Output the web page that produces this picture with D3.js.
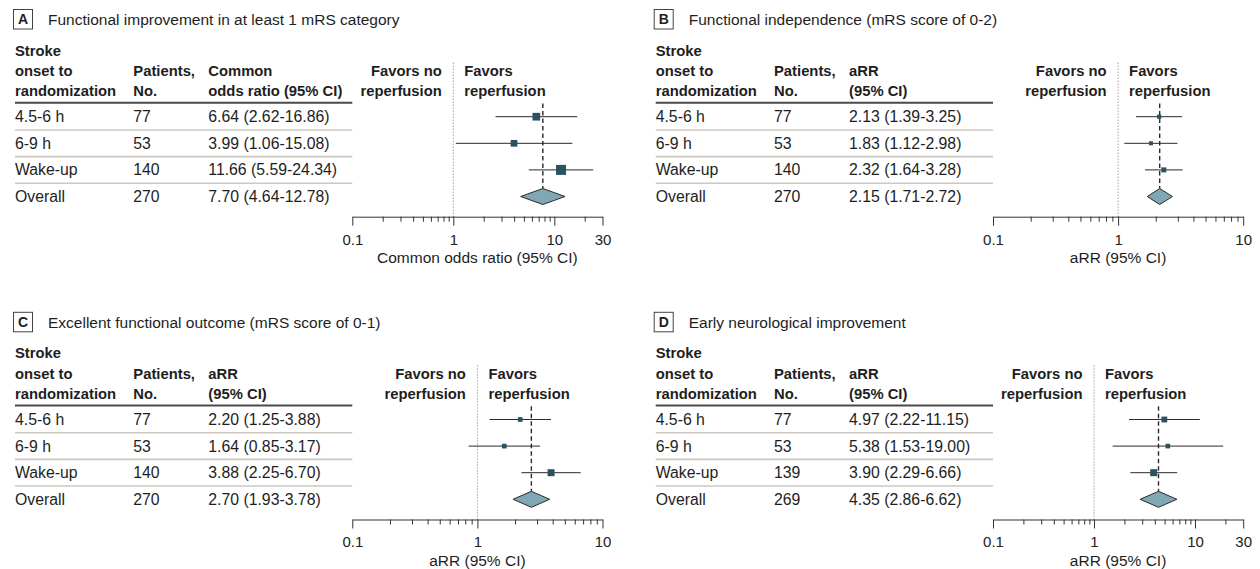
<!DOCTYPE html>
<html>
<head>
<meta charset="utf-8">
<script src="https://cdn.jsdelivr.net/npm/d3@7"></script>
<style>
  html, body { margin: 0; padding: 0; background: #fff; }
  svg { display: block; font-family: "Liberation Sans", Arial, sans-serif; }
  .axis path, .axis line { stroke: #333; stroke-width: 1; }
  .axis text { font-size: 15px; fill: #222; font-family: "Liberation Sans", Arial, sans-serif; }
</style>
</head>
<body>
<svg id="chart" width="1260" height="569"></svg>
<script>
// ---------------- DATA ----------------
const panelLetters = ["A", "B", "C", "D"];
const panelTitles = [
  "Functional improvement in at least 1 mRS category",
  "Functional independence (mRS score of 0-2)",
  "Excellent functional outcome (mRS score of 0-1)",
  "Early neurological improvement"
];
const groups = ["4.5-6 h", "6-9 h", "Wake-up", "Overall"];
const headerCol1 = ["Stroke", "onset to", "randomization"];
const headerCol2 = ["Patients,", "No."];
const estHeaders = [
  ["Common", "odds ratio (95% CI)"],
  ["aRR", "(95% CI)"],
  ["aRR", "(95% CI)"],
  ["aRR", "(95% CI)"]
];
const axisTitles = ["Common odds ratio (95% CI)", "aRR (95% CI)", "aRR (95% CI)", "aRR (95% CI)"];

const patientsA = [77, 53, 140, 270];
const patientsB = [77, 53, 140, 270];
const patientsC = [77, 53, 140, 270];
const patientsD = [77, 53, 139, 269];

const estimateA = [6.64, 3.99, 11.66, 7.70];
const lowerA    = [2.62, 1.06, 5.59, 4.64];
const upperA    = [16.86, 15.08, 24.34, 12.78];

const estimateB = [2.13, 1.83, 2.32, 2.15];
const lowerB    = [1.39, 1.12, 1.64, 1.71];
const upperB    = [3.25, 2.98, 3.28, 2.72];

const estimateC = [2.20, 1.64, 3.88, 2.70];
const lowerC    = [1.25, 0.85, 2.25, 1.93];
const upperC    = [3.88, 3.17, 6.70, 3.78];

const estimateD = [4.97, 5.38, 3.90, 4.35];
const lowerD    = [2.22, 1.53, 2.29, 2.86];
const upperD    = [11.15, 19.00, 6.66, 6.62];

// relative study weights (marker size), first three rows
const weightA = [0.77, 0.67, 1.0];
const weightB = [0.42, 0.40, 0.50];
const weightC = [0.47, 0.47, 0.70];
const weightD = [0.58, 0.46, 0.70];

const tickLabelsA = [0.1, 1, 10, 30];
const tickLabelsB = [0.1, 1, 10];
const tickLabelsC = [0.1, 1, 10];
const tickLabelsD = [0.1, 1, 10, 30];

const minorTicksA = [0.2,0.3,0.4,0.5,0.6,0.7,0.8,0.9,2,3,4,5,6,7,8,9,20];
const minorTicksB = [0.2,0.3,0.4,0.5,0.6,0.7,0.8,0.9,2,3,4,5,6,7,8,9];
const minorTicksC = [0.2,0.3,0.4,0.5,0.6,0.7,0.8,0.9,2,3,4,5,6,7,8,9];
const minorTicksD = [0.2,0.3,0.4,0.5,0.6,0.7,0.8,0.9,2,3,4,5,6,7,8,9,20];

// ---------------- LAYOUT ----------------
const panelsData = [
  {patients: patientsA, est: estimateA, lo: lowerA, hi: upperA, w: weightA, ticks: tickLabelsA, minor: minorTicksA},
  {patients: patientsB, est: estimateB, lo: lowerB, hi: upperB, w: weightB, ticks: tickLabelsB, minor: minorTicksB},
  {patients: patientsC, est: estimateC, lo: lowerC, hi: upperC, w: weightC, ticks: tickLabelsC, minor: minorTicksC},
  {patients: patientsD, est: estimateD, lo: lowerD, hi: upperD, w: weightD, ticks: tickLabelsD, minor: minorTicksD}
];
const originX = [0, 640.7, 0, 640.7];
const originY = [0, 0, 302.8, 302.8];

const colX = [15, 133.3, 208.3];
const tableEnd = 352.3;
const axisEnd = 602.5;
const headerY = [50.5, 70.8, 91.2];
const rowY = d3.scaleBand().domain(groups).range([103.4, 209.8]);
const axisY = 216.7;
const textColor = "#1e1e1e";
const markerColor = "#2b5260";
const diamondColor = "#7fa7b6";
const sizeScale = d3.scaleLinear().domain([0, 1]).range([0, 10]);
const fmt = d3.format(".2f");

const svg = d3.select("#chart");

panelsData.forEach((pd, i) => {
  const g = svg.append("g").attr("transform", `translate(${originX[i]},${originY[i]})`);
  const x = d3.scaleLog().domain([pd.ticks[0], pd.ticks[pd.ticks.length - 1]]).range([tableEnd, axisEnd]);
  const cy = gname => rowY(gname) + rowY.bandwidth() / 2;

  // Title box + title
  g.append("rect").attr("x", 13.5).attr("y", 9.5).attr("width", 19).attr("height", 19.5)
    .attr("fill", "none").attr("stroke", "#444").attr("stroke-width", 1);
  g.append("text").attr("x", 23).attr("y", 19.3).attr("dy", "0.35em").attr("text-anchor", "middle")
    .attr("font-size", 14).attr("font-weight", "bold").attr("fill", textColor).text(panelLetters[i]);
  g.append("text").attr("x", 48).attr("y", 19.3).attr("dy", "0.35em")
    .attr("font-size", 15.5).attr("fill", textColor).text(panelTitles[i]);

  // Column headers
  const hdr = (txt, xx, yy, anchor) => g.append("text").attr("x", xx).attr("y", yy).attr("dy", "0.35em")
    .attr("text-anchor", anchor || "start").attr("font-size", 14.8).attr("font-weight", "bold")
    .attr("fill", textColor).text(txt);
  headerCol1.forEach((t, k) => hdr(t, colX[0], headerY[k]));
  headerCol2.forEach((t, k) => hdr(t, colX[1], headerY[k + 1]));
  estHeaders[i].forEach((t, k) => hdr(t, colX[2], headerY[k + 1]));
  hdr("Favors no", x(1) - 11.5, headerY[1], "end");
  hdr("reperfusion", x(1) - 11.5, headerY[2], "end");
  hdr("Favors", x(1) + 11, headerY[1]);
  hdr("reperfusion", x(1) + 11, headerY[2]);

  // Table lines
  g.append("line").attr("x1", colX[0]).attr("x2", tableEnd).attr("y1", rowY.range()[0] - 0.7).attr("y2", rowY.range()[0] - 0.7)
    .attr("stroke", "#4a4a4a").attr("stroke-width", 2);
  groups.slice(1).forEach(gn => {
    const yy = rowY(gn);
    g.append("line").attr("x1", colX[0]).attr("x2", tableEnd).attr("y1", yy).attr("y2", yy)
      .attr("stroke", "#cdc9c1").attr("stroke-width", 1.6);
  });

  // Row text
  groups.forEach((gn, r) => {
    const yy = cy(gn);
    const rt = (txt, xx) => g.append("text").attr("x", xx).attr("y", yy).attr("dy", "0.35em")
      .attr("font-size", 15.8).attr("fill", textColor).text(txt);
    rt(gn, colX[0]);
    rt(String(pd.patients[r]), colX[1]);
    rt(`${fmt(pd.est[r])} (${fmt(pd.lo[r])}-${fmt(pd.hi[r])})`, colX[2]);
  });

  // Null line (dotted)
  g.append("line").attr("x1", x(1)).attr("x2", x(1)).attr("y1", 62.7).attr("y2", axisY)
    .attr("stroke", "#777").attr("stroke-width", 1).attr("stroke-dasharray", "1,2");

  // Overall dashed line
  const ov = groups.length - 1;
  const ovY = cy(groups[ov]);
  g.append("line").attr("x1", x(pd.est[ov])).attr("x2", x(pd.est[ov]))
    .attr("y1", rowY.range()[0]).attr("y2", ovY - 8)
    .attr("stroke", "#2a2a2a").attr("stroke-width", 1.4).attr("stroke-dasharray", "4.5,3");

  // CI lines and markers
  groups.slice(0, ov).forEach((gn, r) => {
    const yy = cy(gn);
    g.append("line").attr("x1", x(pd.lo[r])).attr("x2", x(pd.hi[r])).attr("y1", yy).attr("y2", yy)
      .attr("stroke", "#2a2a2a").attr("stroke-width", 1);
    const s = sizeScale(pd.w[r]);
    g.append("rect").attr("x", x(pd.est[r]) - s / 2).attr("y", yy - s / 2).attr("width", s).attr("height", s)
      .attr("fill", markerColor);
  });

  // Diamond
  const dpts = [[x(pd.lo[ov]), ovY], [x(pd.est[ov]), ovY - 8], [x(pd.hi[ov]), ovY], [x(pd.est[ov]), ovY + 8]];
  g.append("path").attr("d", d3.line()(dpts) + "Z").attr("fill", diamondColor)
    .attr("stroke", "#2a2a2a").attr("stroke-width", 1);

  // Axis: minor ticks
  g.append("g").attr("class", "axis").attr("transform", `translate(0,${axisY})`)
    .call(d3.axisBottom(x).tickValues(pd.minor).tickSize(5).tickSizeOuter(0).tickFormat(""));
  // Axis: major ticks with labels
  g.append("g").attr("class", "axis").attr("transform", `translate(0,${axisY})`)
    .call(d3.axisBottom(x).tickValues(pd.ticks).tickSize(9).tickSizeOuter(0).tickPadding(8.3)
      .tickFormat(d => String(d)))
    .call(a => a.select(".domain").remove());

  g.append("text").attr("x", (tableEnd + axisEnd) / 2).attr("y", 257.5).attr("dy", "0.35em")
    .attr("text-anchor", "middle").attr("font-size", 15.5).attr("fill", textColor).text(axisTitles[i]);
});
</script>
</body>
</html>
